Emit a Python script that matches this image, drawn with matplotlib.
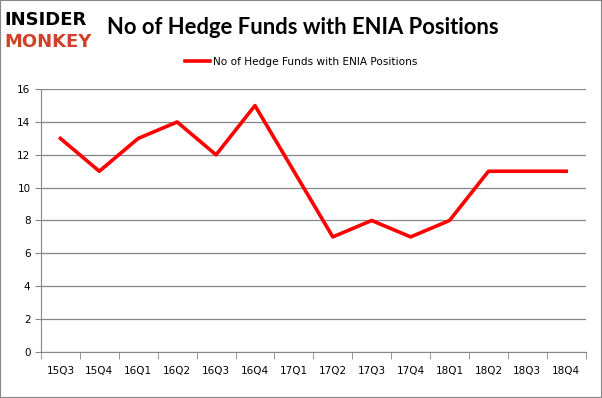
import matplotlib.pyplot as plt
from matplotlib.patches import Rectangle

quarters = ['15Q3', '15Q4', '16Q1', '16Q2', '16Q3', '16Q4', '17Q1',
            '17Q2', '17Q3', '17Q4', '18Q1', '18Q2', '18Q3', '18Q4']
funds = [13, 11, 13, 14, 12, 15, 11, 7, 8, 7, 8, 11, 11, 11]

fig = plt.figure(figsize=[6.02, 3.98], dpi=100)
ax = fig.add_axes([0.068, 0.116, 0.905, 0.66])

x = list(range(len(quarters)))
ax.plot(x, funds, color='#ff0000', linewidth=2.6, label='No of Hedge Funds with ENIA Positions')

ax.set_xlim(-0.5, len(quarters) - 0.5)
ax.set_ylim(0, 16)
ax.set_yticks(range(0, 17, 2))
ax.set_xticks(x)
ax.set_xticklabels(quarters)
ax.set_xticks([i - 0.5 for i in range(len(quarters) + 1)], minor=True)
ax.tick_params(axis='x', which='major', length=0, pad=10, labelsize=7.5)
ax.tick_params(axis='x', which='minor', length=5, color='#868686')
ax.tick_params(axis='y', length=4, color='#868686', labelsize=7.5)
ax.grid(axis='y', color='#868686', linewidth=0.9)
ax.set_axisbelow(True)
for s in ['top', 'right']:
    ax.spines[s].set_visible(False)
ax.spines['left'].set_color('#868686')
ax.spines['bottom'].set_color('#868686')

ax.legend(loc='center', bbox_to_anchor=(0.478, 1.105), frameon=False,
          fontsize=7.6, handlelength=2.4, handletextpad=0.3)

fig.text(0.178, 0.932, 'No of Hedge Funds with ENIA Positions', fontsize=15.8,
         fontweight='bold', family='Lato', va='center', ha='left')
fig.text(0.008, 0.95, 'INSIDER', fontsize=13, fontweight='heavy', color='black',
         va='center', ha='left')
fig.text(0.008, 0.895, 'MONKEY', fontsize=13, fontweight='heavy', color='#d0402a',
         va='center', ha='left')

fig.patches.append(Rectangle((0, 0), 1, 1, transform=fig.transFigure, fill=False,
                             edgecolor='#868686', linewidth=1.5))

fig.savefig('out.png', dpi=100)
